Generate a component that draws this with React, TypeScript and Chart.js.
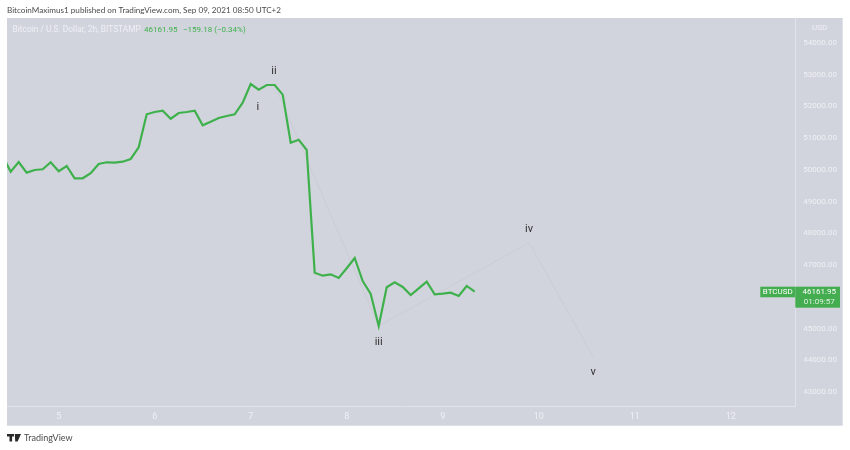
import React, { useRef, useEffect } from 'react';
import { Chart, registerables } from 'chart.js';

Chart.register(...registerables);

// 2h closes, first one sits just left of the visible range
const closes = [
  50439, 49944, 50250, 49913, 49998, 50020, 50240, 49957, 50124, 49736, 49736, 49894,
  50187, 50240, 50228, 50259, 50344, 50713, 51753, 51825, 51866, 51614, 51794, 51825,
  51866, 51406, 51520, 51636, 51699, 51753, 52119, 52708, 52528, 52676, 52676, 52371,
  50858, 50952, 50628, 46761, 46666, 46710, 46594, 46900, 47224, 46499, 46090, 45081,
  46301, 46458, 46310, 46058, 46269, 46477, 46080, 46099, 46131, 46027, 46342, 46161.95,
];
const firstBar = -1;

const waveBars = [33, 46, 64.8, 72.8];
const wavePrices = [52676, 45081, 47706, 44114];

const waveLabels = ['i', 'ii', 'iii', 'iv', 'v'];
const waveLabelBars = [30.9, 32.9, 46, 64.8, 72.8];
const waveLabelPrices = [51970, 53110, 44570, 48120, 43625];

const dayBars = [6, 18, 30, 42, 54, 66, 78, 90];
const dayLabels = ['5', '6', '7', '8', '9', '10', '11', '12'];
const priceTicks = [43000, 44000, 45000, 47000, 48000, 49000, 50000, 51000, 52000, 53000, 54000];

const FONT = 'Roboto, sans-serif';
const GREEN = '#3fb14c';

const decorations = {
  id: 'decorations',
  beforeDraw(chart: any) {
    const { ctx, scales } = chart;
    ctx.save();
    ctx.fillStyle = '#d1d4dc';
    ctx.fillRect(chart.chartArea.left, 18, scales.y.right - chart.chartArea.left, scales.x.bottom - 18);
    ctx.restore();
  },
  afterDraw(chart: any) {
    const { ctx, scales } = chart;
    ctx.save();
    ctx.textBaseline = 'middle';

    // header
    ctx.textAlign = 'left';
    ctx.fillStyle = '#4a4a4a';
    ctx.font = '8.15px Lato, sans-serif';
    ctx.fillText('BitcoinMaximus1 published on TradingView.com, Sep 09, 2021 08:50 UTC+2', 7, 10.5);
    ctx.fillStyle = '#eef0f5';
    ctx.font = `8.4px ${FONT}`;
    ctx.fillText('Bitcoin / U.S. Dollar, 2h, BITSTAMP', 12.5, 29.5);
    ctx.fillStyle = GREEN;
    ctx.font = `8px ${FONT}`;
    ctx.fillText('46161.95', 144, 29.5);
    ctx.fillText('\u2212159.18 (\u22120.34%)', 183, 29.5);
    ctx.fillStyle = '#eef0f5';
    ctx.fillText('USD', 812, 28);

    // wave labels
    ctx.textAlign = 'center';
    ctx.fillStyle = '#333';
    ctx.font = `11px ${FONT}`;
    waveLabels.forEach((t, i) => {
      ctx.fillText(t, scales.x.getPixelForValue(waveLabelBars[i]), scales.y.getPixelForValue(waveLabelPrices[i]));
    });

    // last price tags
    const yLast = scales.y.getPixelForValue(closes[closes.length - 1]);
    const axisX = scales.y.left;
    ctx.fillStyle = '#43ad4f';
    ctx.fillRect(axisX - 35, yLast - 5, 35, 10.6);
    ctx.fillRect(axisX, yLast - 5, 44.7, 21);
    ctx.fillStyle = '#ffffff';
    ctx.font = `8px ${FONT}`;
    ctx.fillText('BTCUSD', axisX - 17.5, yLast + 0.4);
    ctx.fillText('46161.95', axisX + 24, yLast + 0.8);
    ctx.fillStyle = '#dff2e0';
    ctx.fillText('01:09:57', axisX + 24, yLast + 10.6);

    // footer logo
    ctx.fillStyle = '#2a2a2a';
    ctx.fillRect(7, 434, 7, 2.5);
    ctx.fillRect(9.5, 434, 2.6, 7.5);
    ctx.beginPath();
    ctx.moveTo(14.8, 434);
    ctx.lineTo(21, 434);
    ctx.lineTo(17.6, 441.5);
    ctx.lineTo(15.2, 441.5);
    ctx.closePath();
    ctx.fill();
    ctx.textAlign = 'left';
    ctx.fillStyle = '#4a4a4a';
    ctx.font = '9px Lato, sans-serif';
    ctx.fillText('TradingView', 24, 438);
    ctx.restore();
  },
};

const App: React.FC = () => {
  const canvasRef = useRef<HTMLCanvasElement>(null);

  useEffect(() => {
    document.body.style.margin = '0';
    if (!canvasRef.current) return;
    const ctx = canvasRef.current.getContext('2d');
    if (!ctx) return;

    const chart = new Chart(ctx, {
      type: 'line',
      data: {
        datasets: [
          {
            data: closes.map((v, i) => ({ x: firstBar + i, y: v })),
            borderColor: GREEN,
            borderWidth: 2.2,
            pointRadius: 0,
            tension: 0,
            order: 1,
          },
          {
            data: waveBars.map((b, i) => ({ x: b, y: wavePrices[i] })),
            borderColor: '#cacdd5',
            borderWidth: 1,
            pointRadius: 0,
            tension: 0,
            order: 2,
          },
        ],
      },
      options: {
        responsive: false,
        animation: false,
        layout: { padding: { left: 7, top: 18.3, right: 7.3, bottom: 24.3 } },
        plugins: { legend: { display: false }, tooltip: { enabled: false } },
        scales: {
          x: {
            type: 'linear',
            min: -0.46,
            max: 98.07,
            grid: { display: false, drawTicks: false },
            border: { color: '#e0e3eb', width: 1 },
            afterFit: (s: any) => { s.height = 19; },
            afterBuildTicks: (s: any) => { s.ticks = dayBars.map((value) => ({ value })); },
            ticks: {
              autoSkip: false,
              maxRotation: 0,
              padding: 5,
              color: '#eef0f5',
              font: { family: FONT, size: 9 },
              callback: (v: any) => dayLabels[dayBars.indexOf(Number(v))] ?? '',
            },
          },
          y: {
            position: 'right',
            min: 42537,
            max: 54778,
            grid: { display: false, drawTicks: false },
            border: { color: '#e0e3eb', width: 1 },
            afterFit: (s: any) => { s.width = 47.4; },
            afterBuildTicks: (s: any) => { s.ticks = priceTicks.map((value) => ({ value })); },
            ticks: {
              autoSkip: false,
              padding: 8,
              color: '#eef0f5',
              font: { family: FONT, size: 8 },
              callback: (v: any) => Number(v).toFixed(2),
            },
          },
        },
      },
      plugins: [decorations],
    });

    return () => {
      chart.destroy();
    };
  }, []);

  return <canvas ref={canvasRef} width={850} height={450} style={{ display: 'block' }} />;
};

export default App;
